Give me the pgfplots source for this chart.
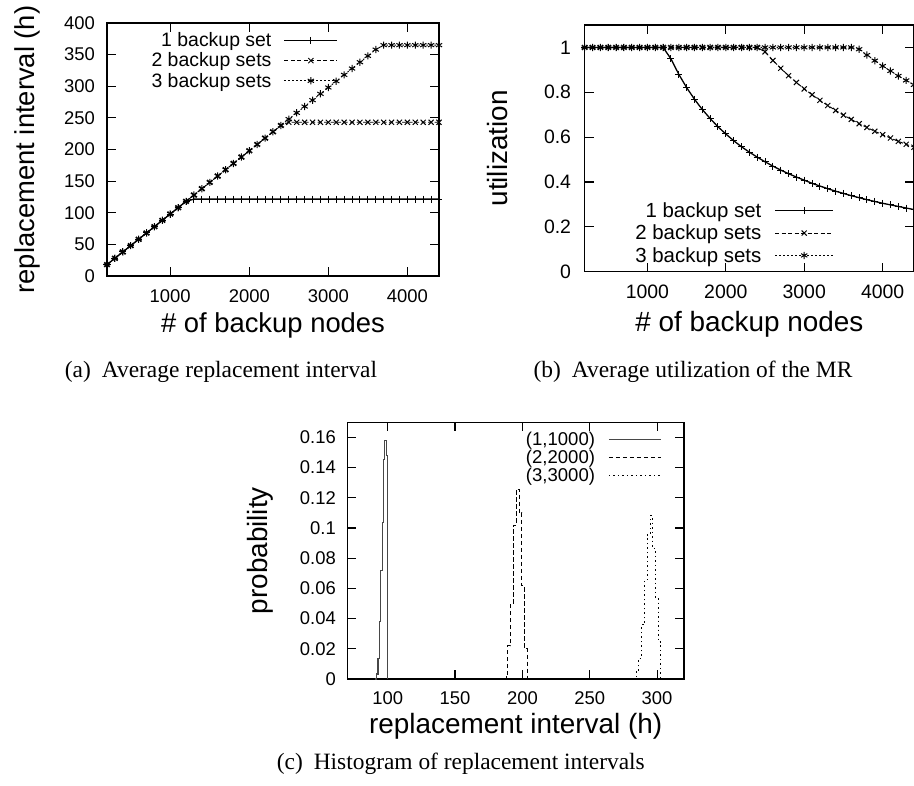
\documentclass[border=0pt]{standalone}
\usepackage{pgfplots}
\pgfplotsset{compat=1.18}
\usepackage{fontspec}
\setmainfont{Liberation Sans}
\newfontfamily\capfont{Liberation Serif}
\pgfplotsset{
  /pgf/number format/assume math mode=true,
  /pgf/number format/1000 sep={},
  gp/.style={
    scale only axis,
    anchor=south west,
    axis line style={line width=1.1bp},
    every tick/.style={line width=1.1bp, black},
    major tick length=9bp,
    tick align=inside,
    clip=false,
    xticklabel style={inner sep=0pt, anchor=north},
    yticklabel style={inner sep=0pt, anchor=east},
    legend cell align=right,
    legend plot pos=right,
    legend style={draw=none, fill=none, inner sep=0pt, outer sep=0pt, nodes={inner sep=0pt}},
    xlabel style={inner sep=0pt, anchor=center},
    ylabel style={inner sep=0pt, anchor=center},
  },
  s1/.style={black, line width=1.3bp, mark=+, mark size=3.5bp, mark options={solid, line width=1bp}},
  s2/.style={black, line width=0.9bp, dash pattern=on 4bp off 2.5bp, mark=x, mark size=3.6bp, mark options={solid, line width=1bp}},
  s3/.style={black, line width=0.9bp, dash pattern=on 1.5bp off 2.5bp, mark=asterisk, mark size=3.6bp, mark options={solid, line width=1bp}},
}
\begin{document}
\begin{tikzpicture}
% ---------------- (a) ----------------
\begin{axis}[gp,
  at={(107bp,510bp)}, width=332bp, height=253bp,
  xmin=200, xmax=4400, ymin=0, ymax=400,
  xtick={1000,2000,3000,4000}, ytick={0,50,100,150,200,250,300,350,400},
  tick label style={font=\fontsize{18.5}{22}\selectfont},
  xticklabel style={yshift=-13.3bp}, yticklabel style={xshift=-12bp},
  label style={font=\fontsize{27.5}{33}\selectfont},
  xlabel={\# of backup nodes}, ylabel={replacement interval (h)},
  xlabel style={at={(axis description cs:0.5,-0.1937)}},
  ylabel style={at={(axis description cs:-0.2395,0.5)}},
  legend image code/.code={\draw[mark repeat=2,mark phase=2,#1] plot coordinates {(0bp,0bp) (26.5bp,0bp) (53bp,0bp)};},
  legend style={at={(axis description cs:0.6958,0.9617)}, anchor=north east,
    font=\fontsize{19.5}{23}\selectfont, row sep=4.6bp, column sep=12.3bp},
]
\addplot[s1] coordinates {(200,18)(300,28)(400,38)(500,48)(600,58)(700,68)(800,78)(900,88)(1000,98)(1100,108)(1200,118)(1300,121.5)(1400,121.5)(1500,121.5)(1600,121.5)(1700,121.5)(1800,121.5)(1900,121.5)(2000,121.5)(2100,121.5)(2200,121.5)(2300,121.5)(2400,121.5)(2500,121.5)(2600,121.5)(2700,121.5)(2800,121.5)(2900,121.5)(3000,121.5)(3100,121.5)(3200,121.5)(3300,121.5)(3400,121.5)(3500,121.5)(3600,121.5)(3700,121.5)(3800,121.5)(3900,121.5)(4000,121.5)(4100,121.5)(4200,121.5)(4300,121.5)(4400,121.5)};
\addlegendentry{1 backup set}
\addplot[s2] coordinates {(200,18)(300,28)(400,38)(500,48)(600,58)(700,68)(800,78)(900,88)(1000,98)(1100,108)(1200,118)(1300,128)(1400,138)(1500,148)(1600,158)(1700,168)(1800,178)(1900,188)(2000,198)(2100,208)(2200,218)(2300,228)(2400,238)(2500,243)(2600,243)(2700,243)(2800,243)(2900,243)(3000,243)(3100,243)(3200,243)(3300,243)(3400,243)(3500,243)(3600,243)(3700,243)(3800,243)(3900,243)(4000,243)(4100,243)(4200,243)(4300,243)(4400,243)};
\addlegendentry{2 backup sets}
\addplot[s3] coordinates {(200,18)(300,28)(400,38)(500,48)(600,58)(700,68)(800,78)(900,88)(1000,98)(1100,108)(1200,118)(1300,128)(1400,138)(1500,148)(1600,158)(1700,168)(1800,178)(1900,188)(2000,198)(2100,208)(2200,218)(2300,228)(2400,238)(2500,248)(2600,258)(2700,268)(2800,278)(2900,288)(3000,298)(3100,308)(3200,318)(3300,328)(3400,338)(3500,348)(3600,358)(3700,365)(3800,365)(3900,365)(4000,365)(4100,365)(4200,365)(4300,365)(4400,365)};
\addlegendentry{3 backup sets}
\end{axis}
% ---------------- (b) ----------------
\begin{axis}[gp,
  at={(584.7bp,514.3bp)}, width=329.3bp, height=246.7bp,
  xmin=200, xmax=4400, ymin=0, ymax=1.1,
  xtick={1000,2000,3000,4000}, ytick={0,0.2,0.4,0.6,0.8,1},
  tick label style={font=\fontsize{19.5}{23}\selectfont},
  xticklabel style={yshift=-13.3bp}, yticklabel style={xshift=-13.5bp},
  label style={font=\fontsize{28}{33}\selectfont},
  xlabel={\# of backup nodes}, ylabel={utilization},
  xlabel style={at={(axis description cs:0.5,-0.2148)}},
  ylabel style={at={(axis description cs:-0.265,0.5)}},
  legend image code/.code={\draw[mark repeat=2,mark phase=2,#1] plot coordinates {(0bp,0bp) (29.15bp,0bp) (58.3bp,0bp)};},
  legend style={at={(axis description cs:0.757,0.2805)}, anchor=north east,
    font=\fontsize{20.5}{24}\selectfont, row sep=6.1bp, column sep=13bp},
]
\addplot[s1] coordinates {(200,1)(300,1)(400,1)(500,1)(600,1)(700,1)(800,1)(900,1)(1000,1)(1100,1)(1200,1)(1300,0.949)(1400,0.880)(1500,0.821)(1600,0.769)(1700,0.723)(1800,0.683)(1900,0.646)(2000,0.614)(2100,0.584)(2200,0.557)(2300,0.533)(2400,0.511)(2500,0.490)(2600,0.471)(2700,0.453)(2800,0.437)(2900,0.422)(3000,0.408)(3100,0.394)(3200,0.382)(3300,0.370)(3400,0.359)(3500,0.349)(3600,0.339)(3700,0.330)(3800,0.321)(3900,0.313)(4000,0.305)(4100,0.298)(4200,0.291)(4300,0.284)(4400,0.277)};
\addlegendentry{1 backup set}
\addplot[s2] coordinates {(200,1)(300,1)(400,1)(500,1)(600,1)(700,1)(800,1)(900,1)(1000,1)(1100,1)(1200,1)(1300,1)(1400,1)(1500,1)(1600,1)(1700,1)(1800,1)(1900,1)(2000,1)(2100,1)(2200,1)(2300,1)(2400,1)(2500,0.980)(2600,0.942)(2700,0.907)(2800,0.874)(2900,0.844)(3000,0.815)(3100,0.789)(3200,0.764)(3300,0.741)(3400,0.719)(3500,0.698)(3600,0.679)(3700,0.660)(3800,0.643)(3900,0.626)(4000,0.611)(4100,0.596)(4200,0.581)(4300,0.568)(4400,0.555)};
\addlegendentry{2 backup sets}
\addplot[s3] coordinates {(200,1)(300,1)(400,1)(500,1)(600,1)(700,1)(800,1)(900,1)(1000,1)(1100,1)(1200,1)(1300,1)(1400,1)(1500,1)(1600,1)(1700,1)(1800,1)(1900,1)(2000,1)(2100,1)(2200,1)(2300,1)(2400,1)(2500,1)(2600,1)(2700,1)(2800,1)(2900,1)(3000,1)(3100,1)(3200,1)(3300,1)(3400,1)(3500,1)(3600,1)(3700,0.992)(3800,0.966)(3900,0.941)(4000,0.917)(4100,0.895)(4200,0.873)(4300,0.853)(4400,0.833)};
\addlegendentry{3 backup sets}
\end{axis}
% ---------------- (c) ----------------
\begin{axis}[gp,
  at={(347.3bp,107bp)}, width=336.7bp, height=256.7bp,
  xmin=70, xmax=320, ymin=0, ymax=0.17,
  xtick={100,150,200,250,300}, ytick={0,0.02,0.04,0.06,0.08,0.1,0.12,0.14,0.16},
  scaled y ticks=false,
  yticklabel style={/pgf/number format/fixed, /pgf/number format/precision=2},
  tick label style={font=\fontsize{18.5}{22}\selectfont},
  xticklabel style={yshift=-12.7bp}, yticklabel style={xshift=-11.3bp},
  label style={font=\fontsize{28}{33}\selectfont},
  xlabel={replacement interval (h)}, ylabel={probability},
  xlabel style={at={(axis description cs:0.5,-0.1823)}},
  ylabel style={at={(axis description cs:-0.259,0.5)}},
  legend image code/.code={\draw[#1] plot coordinates {(0bp,0bp) (52.3bp,0bp)};},
  legend style={at={(axis description cs:0.9338,0.9634)}, anchor=north east,
    font=\fontsize{18.6}{22}\selectfont, row sep=3.1bp, column sep=13.3bp},
]
\addplot[const plot, black!72, line width=1.1bp] coordinates {(90.8,0)(91.8,0.0033)(92.8,0.0133)(93.8,0.0383)(94.8,0.0717)(95.8,0.1035)(96.8,0.1456)(97.8,0.158)(99.0,0.148)(100,0)};
\addlegendentry{(1,1000)}
\addplot[const plot, black, line width=0.9bp, dash pattern=on 4.5bp off 2.5bp] coordinates {(186.7,0)(187.8,0.003)(189,0.022)(191.2,0.050)(193.3,0.102)(195.3,0.1258)(197.5,0.110)(199.5,0.0617)(201.5,0.0203)(203.4,0)};
\addlegendentry{(2,2000)}
\addplot[const plot, black, line width=0.9bp, dash pattern=on 1.5bp off 3bp] coordinates {(282.4,0)(284.4,0.0048)(286.3,0.0137)(288.7,0.0358)(290.8,0.0656)(292.7,0.0955)(294.8,0.108)(296.7,0.0863)(298.8,0.054)(300.7,0.0248)(302.4,0)};
\addlegendentry{(3,3000)}
\end{axis}
% ---------------- captions ----------------
\node[anchor=base, inner sep=0pt, font=\capfont\fontsize{23.5}{28}\selectfont] at (221bp,408bp) {(a)\hspace{11bp}Average replacement interval};
\node[anchor=base, inner sep=0pt, font=\capfont\fontsize{23.5}{28}\selectfont] at (693bp,408bp) {(b)\hspace{11bp}Average utilization of the MR};
\node[anchor=base, inner sep=0pt, font=\capfont\fontsize{23.5}{28}\selectfont] at (460.8bp,16.7bp) {(c)\hspace{11bp}Histogram of replacement intervals};
\pgfresetboundingbox
\useasboundingbox (0bp,0bp) rectangle (914bp,786bp);
\end{tikzpicture}
\end{document}
